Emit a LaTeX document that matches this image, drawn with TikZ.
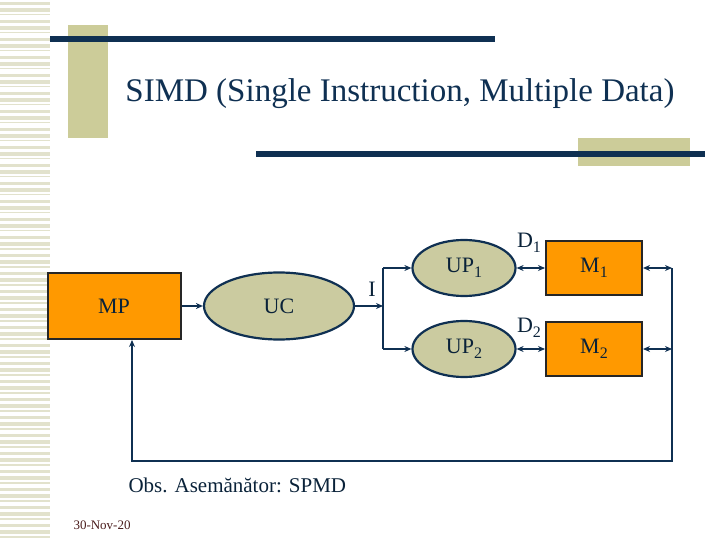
\documentclass[tikz,border=0pt]{standalone}
\usepackage{fontspec}
\setmainfont{Liberation Serif}
\usetikzlibrary{shapes.geometric,arrows.meta,calc}
\definecolor{navy}{HTML}{0F3052}
\definecolor{khaki}{HTML}{CCCC99}
\definecolor{stripe}{HTML}{E2E2CC}
\definecolor{orng}{HTML}{FF9900}
\definecolor{oval}{HTML}{CBCBA0}
\definecolor{datered}{HTML}{4A1C1C}
\newcommand{\idx}[1]{\raisebox{-0.45ex}{\fontsize{16}{16}\selectfont #1}}
\tikzset{
    mem/.style={draw=black!85, line width=2pt, fill=orng, minimum width=96pt, minimum height=54pt, inner sep=0pt, font=\fontsize{22}{24}\selectfont, text=navy!70!black},
    proc/.style={ellipse, draw=navy, line width=2.2pt, fill=oval, minimum width=103pt, minimum height=56pt, inner sep=0pt, font=\fontsize{22}{24}\selectfont, text=navy!70!black},
    link/.style={draw=navy, line width=2.3pt, -{Stealth[length=7pt,width=6pt]}},
    dlink/.style={draw=navy, line width=2.3pt, {Stealth[length=7pt,width=6pt]}-{Stealth[length=7pt,width=6pt]}},
    lbl/.style={font=\fontsize{22}{24}\selectfont, text=navy!70!black, inner sep=0pt}
}
\begin{document}
\begin{tikzpicture}[x=1pt, y=-1pt]
    \useasboundingbox (0,0) rectangle (720,540);
    % Slide background
    \begin{scope}
        \foreach \y [count=\i] in {2,8,...,536}
            \fill[stripe] (0,\y) rectangle (50,{\y+1.5+mod(\i,3)*1.3});
        \fill[khaki] (68,25) rectangle (108,138);
        \fill[khaki] (578,138) rectangle (690,166);
        \fill[navy] (50,36) rectangle (495,42);
        \fill[navy] (256,151) rectangle (705,157);
        \node[text=navy, font=\fontsize{33}{36}\selectfont] (title) at (400,94) {SIMD (Single Instruction, Multiple Data)};
    \end{scope}
    % Diagram
    \node[mem, minimum width=133pt, minimum height=66pt] (mp) at (114,306) {MP};
    \node[proc, minimum width=150pt, minimum height=67pt] (uc) at (279,306) {UC};
    \node[proc] (up1) at (464,268) {UP\idx{1}};
    \node[proc] (up2) at (464,349) {UP\idx{2}};
    \node[mem] (m1) at (594,268) {M\idx{1}};
    \node[mem] (m2) at (594,349) {M\idx{2}};
    \coordinate (j) at (383,306);
    \coordinate (r) at (672,306);
    \coordinate (fb) at (132,461);
    \node[lbl] (ilbl) at (372,289) {I};
    \node[lbl] (d1) at (529,243) {D\idx{1}};
    \node[lbl] (d2) at (529,328) {D\idx{2}};
    \draw[link] (mp.east) -- (uc.west);
    \draw[link] (uc.east) -- (j);
    \draw[navy, line width=2.3pt] (j |- up1) -- (j |- up2);
    \draw[link] (j |- up1) -- (up1.west);
    \draw[link] (j |- up2) -- (up2.west);
    \draw[dlink] (up1.east) -- (m1.west);
    \draw[dlink] (up2.east) -- (m2.west);
    \draw[dlink] (m1.east) -- (r |- m1);
    \draw[dlink] (m2.east) -- (r |- m2);
    \draw[link] (r |- m1) -- (r |- fb) -- (fb) -- (fb |- mp.south);
    % Notes
    \node[text=navy!70!black, font=\fontsize{21}{24}\selectfont, anchor=west] (obs) at (125,485) {Obs. Asemănător: SPMD};
    \node[text=datered, font=\fontsize{13}{15}\selectfont, anchor=west] (date) at (70,525) {30-Nov-20};
\end{tikzpicture}
\end{document}
